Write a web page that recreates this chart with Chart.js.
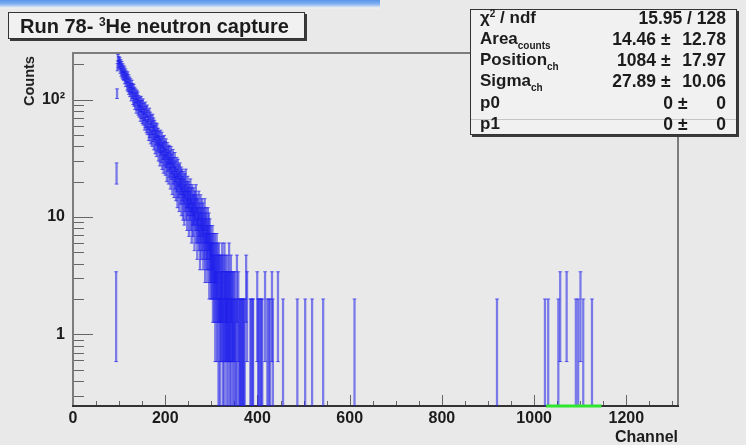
<!DOCTYPE html>
<html><head><meta charset="utf-8">
<script src="https://cdn.jsdelivr.net/npm/chart.js@4.4.0/dist/chart.umd.min.js"></script>
<style>
html,body{margin:0;padding:0;background:#e9e9e9;}
#wrap{position:relative;width:746px;height:445px;overflow:hidden;font-family:"Liberation Sans",Arial,Helvetica,sans-serif;font-weight:bold;color:#1c1c1c;}
canvas{position:absolute;left:0;top:0;}
#band{position:absolute;left:0;top:0;width:380px;height:9px;background:linear-gradient(#5a95ea 0,#80b0f2 4px,#f2f2f2 8px,#e9e9e9 9px);z-index:2;}
#title{position:absolute;left:8px;top:12px;width:297px;height:27px;background:#f1f1f1;border:1px solid #333;box-shadow:2px 2px 0 #3a3a3a;font-size:20px;line-height:27px;padding-left:11px;box-sizing:border-box;white-space:nowrap;z-index:3;}
#title sup{font-size:12px;vertical-align:7px;line-height:0;}
#stats{position:absolute;left:470px;top:9px;width:267px;height:126px;background:#f1f1f1;border:1px solid #333;box-shadow:2px 2px 0 #3a3a3a;box-sizing:border-box;z-index:3;font-size:17px;}
#stats .row{position:absolute;left:0;right:0;height:20px;line-height:20px;white-space:nowrap;}
#stats .lab{position:absolute;left:9px;}
#stats .r{position:absolute;text-align:right;}
#stats .num{font-size:17.5px;}
#stats sub{font-size:10px;vertical-align:-5px;line-height:0;}
#stats sup{font-size:10px;vertical-align:6px;line-height:0;}
#sep{position:absolute;left:0;right:0;top:109px;height:1px;background:#c4c4c4;}
#ytitle{position:absolute;left:29px;top:56px;transform-origin:0 0;transform:rotate(-90deg) translate(-100%,-50%);font-size:14.5px;white-space:nowrap;z-index:3;}
#xtitle{position:absolute;right:68px;top:428px;font-size:16px;white-space:nowrap;z-index:3;}
</style></head>
<body>
<div id="wrap">
<canvas id="c" width="746" height="445"></canvas>
<div id="band"></div>
<div id="title">Run 78- <sup>3</sup>He neutron capture</div>
<div id="stats"><div id="sep"></div></div>
<div id="ytitle">Counts</div>
<div id="xtitle">Channel</div>
</div>
<script>
// ---- data ----
const denseStart = 93; // first channel of the contiguous block
const denseCounts = [
 2, 24, 113, 190, 228, 201, 219,
 196, 214, 181, 205, 172, 198, 166, 189, 161, 183,
 158, 177, 149, 170, 141, 163, 154, 132, 160, 128,
 151, 122, 144, 117, 139, 126, 108, 135, 113, 126,
 101, 124, 98, 117, 92, 113, 104, 86, 110, 91,
 106, 83, 99, 80, 95, 88, 74, 97, 78, 89,
 71, 92, 69, 84, 75, 63, 86, 66, 79, 60,
 81, 58, 73, 64, 52, 76, 55, 70, 49, 66,
 58, 47, 67, 51, 62, 44, 59, 53, 41, 56,
 48, 39, 55, 43, 50, 36, 47, 42, 33, 48,
 40, 35, 46, 31, 42, 37, 29, 43, 33, 38,
 28, 40, 32, 25, 37, 30, 34, 24, 35, 27,
 31, 22, 34, 26, 29, 20, 32, 24, 27, 19,
 30, 22, 25, 18, 27, 21, 16, 26, 19, 23,
 15, 24, 20, 17, 22, 14, 21, 18, 13, 20,
 17, 12, 19, 15, 21, 13, 16, 11, 18, 14,
 16, 10, 15, 13, 17, 11, 14, 9, 15, 12,
 10, 14, 12, 8, 13, 11, 15, 9, 12, 7,
 11, 9, 13, 8, 10, 6, 12, 9, 7, 11,
 8, 10, 6, 9, 7, 11, 5, 8, 9, 6,
 7, 5, 9, 6, 8, 4, 7, 5, 6, 4
];
const tailChannels = [
 300,301,302,303,304,305,306,307,308,309,
 310,311,312,313,314,315,316,317,318,319,
 320,321,322,323,324,325,326,327,328,329,
 330,331,332,333,334,335,336,337,338,339,
 340,341,342,343,344,346,347,348,350,351,353,355,356,358,
 360,362,363,365,367,368,370,372,375,377,
 384,386,389,390,399,401,403,406,408,410,
 416,421,424,427,431,433,444,455,
 486,503,518,542,610,919,
 1023,1030,1052,1056,1070,1090,1095,1100,1106,1125
];
const tailCounts = [
 5,4,6,3,5,4,3,5,2,4,
 3,5,2,4,3,1,4,3,1,3,
 2,3,2,4,1,3,2,1,4,2,
 3,2,1,2,3,2,1,2,4,2,
 1,2,3,1,2,2,1,2,1,2,1,3,1,2,
 1,1,1,1,1,1,1,1,3,2,
 1,1,1,1,2,1,1,1,1,1,
 2,1,1,1,2,1,2,1,
 1,1,1,1,1,1,
 1,1,1,2,2,1,1,2,1,1
];
const fitRange = [1026, 1146];         // green fit line (lies on the axis floor)
const xTickValues = [0, 200, 400, 600, 800, 1000, 1200];
const yTickValues = [1, 10, 100];
const yTickLabels = ['1', '10', '10\u00B2'];
const statLabels = ['\u03C7<sup>2</sup> / ndf', 'Area<sub>counts</sub>', 'Position<sub>ch</sub>', 'Sigma<sub>ch</sub>', 'p0', 'p1'];
const statValues = ['15.95 / 128', '14.46', '1084', '27.89', '0', '0'];
const statErrors = [null, '12.78', '17.97', '10.06', '0', '0'];

// ---- stats box ----
const rowTops = [-2, 19, 40, 61, 83, 104];
const stats = document.getElementById('stats');
statLabels.forEach((lab, i) => {
  const row = document.createElement('div');
  row.className = 'row'; row.style.top = rowTops[i] + 'px';
  let html = '<span class="lab">' + lab + '</span>';
  if (statErrors[i] === null) {
    html += '<span class="r num" style="right:10px">' + statValues[i] + '</span>';
  } else {
    const small = statValues[i].length < 2;
    const pmLeft = small ? 207 : 190;
    const valRight = small ? 63 : 80;
    html += '<span class="r num" style="right:' + valRight + 'px">' + statValues[i] + '</span>' +
            '<span class="r num" style="left:' + pmLeft + 'px">\u00B1</span>' +
            '<span class="r num" style="right:10px">' + statErrors[i] + '</span>';
  }
  row.innerHTML = html;
  stats.appendChild(row);
});

// ---- build histogram marks ----
const bins = [];
denseCounts.forEach((n, i) => { if (n > 0) bins.push({ch: denseStart + i, n}); });
tailChannels.forEach((ch, i) => bins.push({ch, n: tailCounts[i]}));

const Y_MIN = 0.245, Y_MAX = 250, X_MAX = 1312;
const BLUE = 'rgba(30,30,235,0.55)';
const barData = bins.map(b => ({x: b.ch + 0.5, y: [Math.max(b.n - Math.sqrt(b.n), 0.01), b.n + Math.sqrt(b.n)]}));
const capData = [];
bins.forEach(b => {
  const lo = b.n - Math.sqrt(b.n), hi = b.n + Math.sqrt(b.n);
  capData.push({x: b.ch + 0.5, y: hi});
  if (lo > Y_MIN) capData.push({x: b.ch + 0.5, y: lo});
});
const fitData = fitRange.map(x => ({x, y: Y_MIN}));

const framePlugin = {
  id: 'frame',
  beforeDatasetsDraw(chart) {
    const {ctx, chartArea: ca, scales: {x, y}} = chart;
    ctx.save();
    ctx.strokeStyle = '#666'; ctx.lineWidth = 1;
    ctx.beginPath();
    for (let d = -1; d <= 2; d++) {
      for (let m = 1; m <= 9; m++) {
        const v = m * Math.pow(10, d);
        if (v < Y_MIN || v > Y_MAX) continue;
        const py = Math.round(y.getPixelForValue(v)) + 0.5;
        ctx.moveTo(ca.left, py); ctx.lineTo(ca.left + (m === 1 ? 20 : 11), py);
      }
    }
    for (let v = 0; v <= X_MAX; v += 50) {
      const px = Math.round(x.getPixelForValue(v)) + 0.5;
      ctx.moveTo(px, ca.bottom); ctx.lineTo(px, ca.bottom - (v % 200 === 0 ? 11 : 5));
    }
    ctx.stroke();
    ctx.lineWidth = 2;
    ctx.strokeStyle = '#7c7c7c';
    ctx.strokeRect(ca.left, ca.top, ca.right - ca.left, ca.bottom - ca.top);
    ctx.strokeStyle = '#333';
    ctx.beginPath(); ctx.moveTo(ca.left - 1, ca.bottom); ctx.lineTo(ca.right + 1, ca.bottom); ctx.stroke();
    ctx.restore();
  }
};

const FONT = {family: '"Liberation Sans", Arial, sans-serif', size: 16, weight: 'bold'};
new Chart(document.getElementById('c'), {
  type: 'bar',
  data: {datasets: [
    {type: 'bar', data: barData, backgroundColor: BLUE, barThickness: 1.6, grouped: false, order: 2},
    {type: 'scatter', data: capData, pointStyle: 'line', radius: 2, borderColor: BLUE, borderWidth: 1, order: 1},
    {type: 'line', data: fitData, borderColor: '#2ee62e', borderWidth: 3, pointRadius: 0, clip: false, order: 0}
  ]},
  options: {
    responsive: false, animation: false, events: [],
    layout: {padding: {left: 0, top: 53, right: 68, bottom: 0}},
    plugins: {legend: {display: false}, tooltip: {enabled: false}, title: {display: false}},
    scales: {
      x: {type: 'linear', min: 0, max: X_MAX, offset: false,
          grid: {display: false, drawTicks: false}, border: {display: false},
          afterBuildTicks: s => { s.ticks = xTickValues.map(v => ({value: v})); },
          afterFit: s => { s.height = 39; },
          ticks: {color: '#1c1c1c', font: FONT, padding: 3, maxRotation: 0, autoSkip: false,
                  callback: v => String(v)}},
      y: {type: 'logarithmic', min: Y_MIN, max: Y_MAX,
          grid: {display: false, drawTicks: false}, border: {display: false},
          afterBuildTicks: s => { s.ticks = yTickValues.map(v => ({value: v})); },
          afterFit: s => { s.width = 73; },
          ticks: {color: '#1c1c1c', font: FONT, padding: 8, autoSkip: false,
                  callback: v => yTickLabels[yTickValues.indexOf(v)] ?? ''}}
    }
  },
  plugins: [framePlugin]
});
</script>
</body></html>
